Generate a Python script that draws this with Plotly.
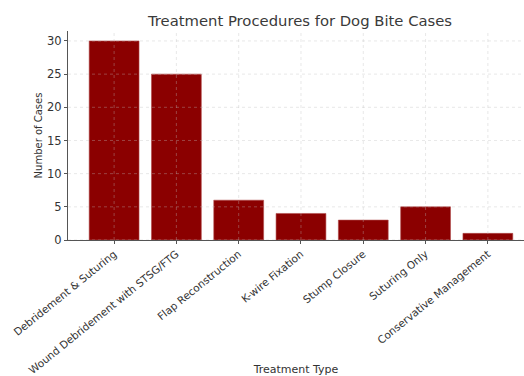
import plotly.graph_objects as go

categories = [
    "Debridement & Suturing",
    "Wound Debridement with STSG/FTG",
    "Flap Reconstruction",
    "K-wire Fixation",
    "Stump Closure",
    "Suturing Only",
    "Conservative Management",
]
cases = [30, 25, 6, 4, 3, 5, 1]
y_ticks = [0, 5, 10, 15, 20, 25, 30]

FONT = "DejaVu Sans"
positions = list(range(len(categories)))

fig = go.Figure(
    go.Bar(
        x=positions,
        y=cases,
        width=0.8,
        marker=dict(color="#8b0000", line=dict(color="#b04a4a", width=0.6)),
    )
)

# faint dotted grid drawn on top of the bars
grid_style = dict(color="rgba(190,190,190,0.5)", width=0.7, dash="dot")
for yv in y_ticks:
    fig.add_shape(type="line", xref="paper", yref="y", x0=0, x1=1, y0=yv, y1=yv,
                  line=grid_style, layer="above")
for xv in positions:
    fig.add_shape(type="line", xref="x", yref="paper", x0=xv, x1=xv, y0=0, y1=1,
                  line=grid_style, layer="above")

fig.update_layout(
    width=524,
    height=376,
    margin=dict(l=68, r=0, t=31, b=136),
    plot_bgcolor="white",
    paper_bgcolor="white",
    showlegend=False,
    bargap=0.2,
    font=dict(family=FONT, color="#333"),
    title=dict(
        text="Treatment Procedures for Dog Bite Cases",
        x=300 / 524,
        xanchor="center",
        xref="container",
        y=1 - 21 / 376,
        yanchor="middle",
        font=dict(family=FONT, size=14.8, color="#3a3a3a"),
    ),
)

fig.update_xaxes(
    tickmode="array",
    tickvals=positions,
    ticktext=categories,
    tickangle=-39,
    range=[-0.74, 6.58],
    showgrid=False,
    showline=True,
    linecolor="#555",
    linewidth=1,
    ticks="outside",
    ticklen=3,
    tickcolor="#555",
    tickfont=dict(family=FONT, size=10.5, color="#333"),
    title=dict(text="Treatment Type", font=dict(family=FONT, size=11, color="#333"), standoff=8),
    automargin=False,
    zeroline=False,
)
fig.update_yaxes(
    tickmode="array",
    tickvals=y_ticks,
    range=[0, 31.5],
    showgrid=False,
    showline=True,
    linecolor="#555",
    linewidth=1,
    ticks="outside",
    ticklen=3,
    tickcolor="#555",
    tickfont=dict(family=FONT, size=11.5, color="#333"),
    title=dict(text="Number of Cases", font=dict(family=FONT, size=10, color="#333"), standoff=2),
    automargin=False,
    zeroline=False,
)

fig.write_html("out.html")
